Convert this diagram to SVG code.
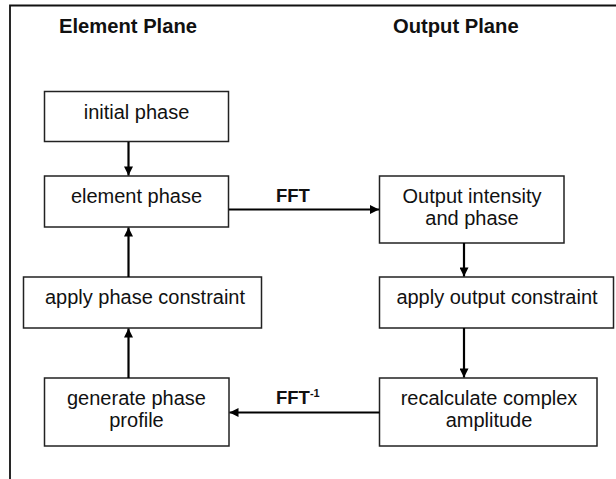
<svg xmlns="http://www.w3.org/2000/svg" width="616" height="479" viewBox="0 0 616 479">
<style>
  .box { fill: #ffffff; stroke: #222222; stroke-width: 1.5; }
  .lbl { font-family: "Liberation Sans", Arial, sans-serif; font-size: 20px; fill: #111111; text-anchor: middle; }
  .hdr { font-family: "Liberation Sans", Arial, sans-serif; font-size: 20.2px; font-weight: bold; fill: #111111; }
  .fft { font-family: "Liberation Sans", Arial, sans-serif; font-size: 18.5px; font-weight: bold; fill: #111111; }
  .sup { font-family: "Liberation Sans", Arial, sans-serif; font-size: 11px; font-weight: bold; fill: #111111; }
  .conn { stroke: #000000; stroke-width: 2.2; fill: none; marker-end: url(#ah); }
  .frame { stroke: #111111; stroke-width: 1.8; fill: none; }
</style>
<defs>
  <marker id="ah" viewBox="0 0 10 10" refX="10" refY="5" markerWidth="10" markerHeight="9" markerUnits="userSpaceOnUse" orient="auto">
    <path d="M0,0 L10,5 L0,10 Z" fill="#000000"/>
  </marker>
</defs>
<rect width="616" height="479" fill="#ffffff"/>
<path class="frame" d="M10,479 L10,5.5 L616,5.5"/>
<text class="hdr" x="59" y="33">Element Plane</text>
<text class="hdr" x="393" y="33">Output Plane</text>

<g id="initial-phase">
  <rect class="box" x="44.5" y="91.5" width="184" height="50"/>
  <text class="lbl" x="136.5" y="118.5">initial phase</text>
</g>
<g id="element-phase">
  <rect class="box" x="44.5" y="176" width="184" height="51"/>
  <text class="lbl" x="136.5" y="203">element phase</text>
</g>
<g id="apply-phase-constraint">
  <rect class="box" x="23.5" y="277" width="238" height="51"/>
  <text class="lbl" x="145" y="303.5">apply phase constraint</text>
</g>
<g id="generate-phase-profile">
  <rect class="box" x="44.5" y="378" width="184.5" height="68"/>
  <text class="lbl" x="136.5" y="405">generate phase</text>
  <text class="lbl" x="136.5" y="427">profile</text>
</g>
<g id="output-intensity">
  <rect class="box" x="379.5" y="176" width="184.5" height="67"/>
  <text class="lbl" x="472" y="203">Output intensity</text>
  <text class="lbl" x="472" y="225">and phase</text>
</g>
<g id="apply-output-constraint">
  <rect class="box" x="379.5" y="277" width="234" height="51"/>
  <text class="lbl" x="497" y="303.5">apply output constraint</text>
</g>
<g id="recalculate">
  <rect class="box" x="379.5" y="378" width="217.5" height="68"/>
  <text class="lbl" x="489" y="405">recalculate complex</text>
  <text class="lbl" x="489" y="427">amplitude</text>
</g>

<g id="connectors">
  <line class="conn" x1="128.5" y1="142" x2="128.5" y2="175.5"/>
  <line class="conn" x1="128.5" y1="277" x2="128.5" y2="227.5"/>
  <line class="conn" x1="128.5" y1="378" x2="128.5" y2="328.5"/>
  <line class="conn" x1="229" y1="209.5" x2="379" y2="209.5"/>
  <line class="conn" x1="464" y1="243" x2="464" y2="276.5"/>
  <line class="conn" x1="464" y1="328" x2="464" y2="377.5"/>
  <line class="conn" x1="379.5" y1="412.5" x2="229.5" y2="412.5"/>
  <text class="fft" x="276" y="202">FFT</text>
  <text class="fft" x="276" y="404">FFT<tspan class="sup" dy="-7">-1</tspan></text>
</g>
</svg>
